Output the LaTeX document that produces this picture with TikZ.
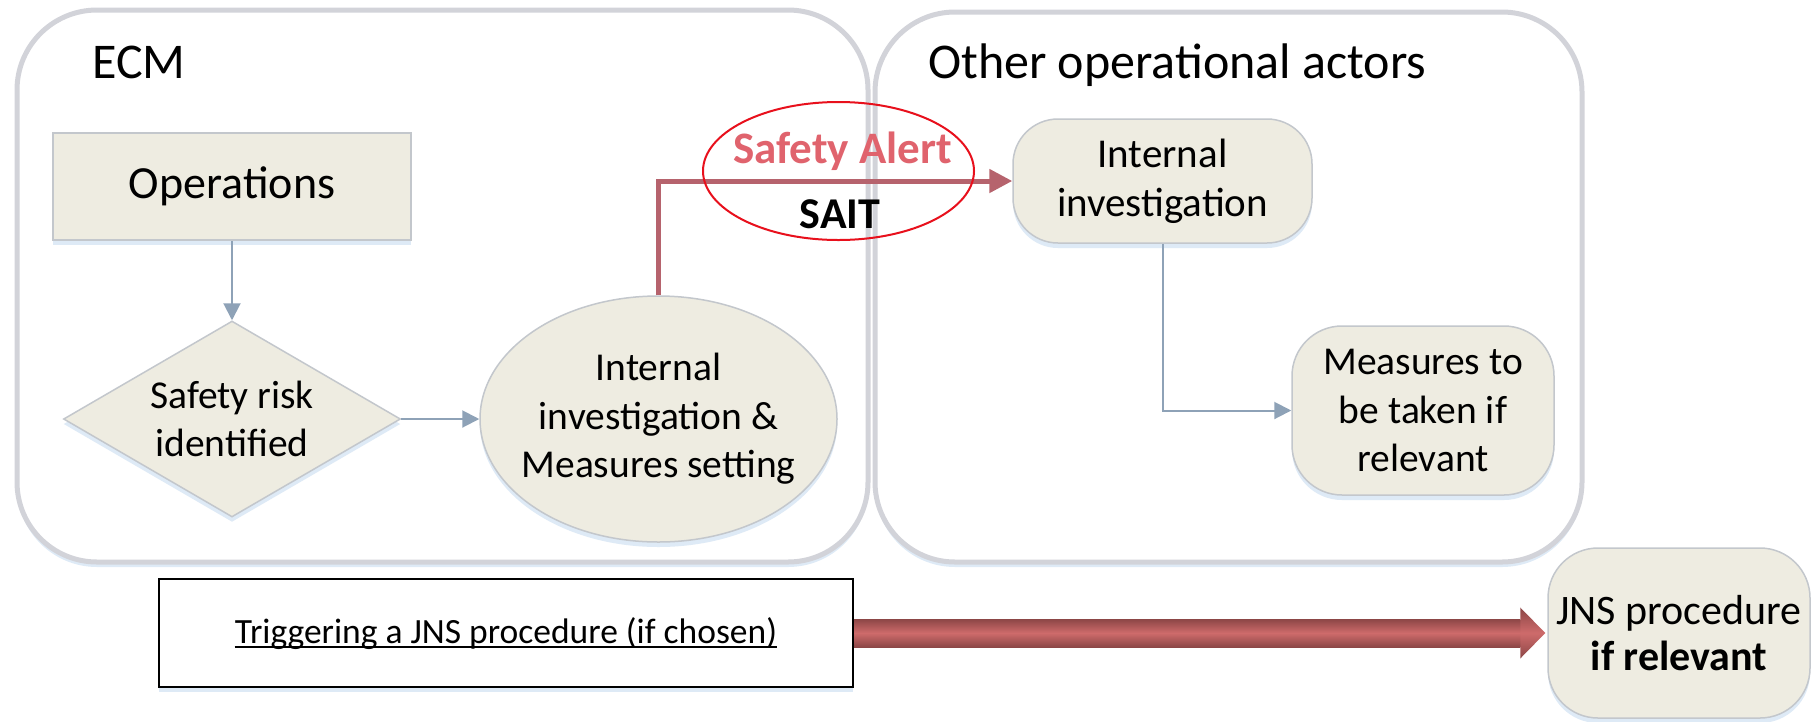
\documentclass[tikz,border=0pt]{standalone}
\usepackage{fontspec}
\setmainfont{Carlito}
\usetikzlibrary{shapes.geometric,arrows.meta,calc,shadows}
\definecolor{tanfill}{HTML}{EEECE1}
\definecolor{nodeline}{HTML}{C3C7CC}
\definecolor{contline}{HTML}{D2D3D9}
\definecolor{grayline}{HTML}{8EA2B7}
\definecolor{redline}{HTML}{B6636D}
\definecolor{alertred}{HTML}{E8101C}
\definecolor{alerttext}{HTML}{E0636D}
\definecolor{arrowmid}{HTML}{CE6B6B}
\definecolor{arrowedge}{HTML}{8C4646}
\definecolor{shadowblue}{HTML}{C8DCF0}
\tikzset{
  softshadow/.style={drop shadow={shadow xshift=0pt,shadow yshift=-5pt,fill=shadowblue,opacity=0.6}},
  container/.style={draw=contline,line width=5pt,rounded corners=80pt,fill=white,inner sep=0pt,softshadow},
  tanbox/.style={draw=nodeline,line width=1.5pt,fill=tanfill,inner sep=0pt,align=center,
    font=\fontsize{39.5}{48.5}\selectfont,softshadow},
  titletext/.style={inner sep=0pt,anchor=base west,font=\fontsize{50}{60}\selectfont},
  grayarrow/.style={draw=grayline,line width=2pt,-{Triangle[length=17pt,width=17pt]}},
  redarrow/.style={draw=redline,line width=5pt,-{Triangle[length=23pt,width=23pt]}},
  bigshade/.style={top color=arrowedge,bottom color=arrowedge,middle color=arrowmid,draw=none}
}
\begin{document}
\begin{tikzpicture}[x=1pt,y=-1pt]
\useasboundingbox (0,0) rectangle (1811,721);
% containers
\node[container,minimum width=851pt,minimum height=552pt] (ecm) at (442.5,286) {};
\node[container,minimum width=707pt,minimum height=550pt] (other) at (1228.5,287) {};
\node[titletext] (ecmt) at (92,78) {ECM};
\node[titletext] (othert) at (928,78) {Other operational actors};
% ECM nodes
\node[tanbox,rectangle,minimum width=358pt,minimum height=107pt,font=\fontsize{46}{55}\selectfont] (ops) at (232,186.5) {Operations};
\node[tanbox,diamond,aspect=1.72,minimum width=337pt,minimum height=196pt] (diam) at (232,419) {Safety risk\\identified};
\node[tanbox,ellipse,minimum width=357pt,minimum height=246pt] (ell) at (658.5,419) {};
\node[inner sep=0pt,align=center,font=\fontsize{39.5}{48.5}\selectfont] (ellt) at (ell.center) {Internal\\investigation \&\\Measures setting};
% other actors nodes
\node[tanbox,rectangle,rounded corners=45pt,minimum width=299pt,minimum height=124pt,
  font=\fontsize{41}{49}\selectfont] (intinv) at (1162.5,181) {Internal\\investigation};
\node[tanbox,rectangle,rounded corners=50pt,minimum width=262pt,minimum height=169pt] (meas) at (1423,410.5) {Measures to\\be taken if\\relevant};
% connectors
\draw[grayarrow] (ops.south) -- (diam.north);
\draw[grayarrow] (diam.east) -- (ell.west);
\draw[grayarrow] (intinv.south) |- (meas.west);
\draw[redarrow] (ell.north) |- (intinv.west);
% safety alert ellipse
\node[draw=alertred,line width=2pt,ellipse,minimum width=271pt,minimum height=138pt,inner sep=0pt] (alert) at (838.5,171) {};
\node[inner sep=0pt,anchor=base,text=alerttext,font=\fontsize{45}{54}\selectfont\bfseries] (alertt) at (842.5,163) {Safety Alert};
\node[inner sep=0pt,anchor=base,font=\fontsize{44}{53}\selectfont\bfseries] (sait) at (840,228) {SAIT};
% bottom row
\node[draw=black,line width=2pt,fill=white,minimum width=694pt,minimum height=108pt,inner sep=0pt,softshadow] (trig) at (506,633) {};
\node[inner sep=0pt,anchor=base,font=\fontsize{35.5}{42}\selectfont] (trigt) at (506,643) {Triggering a JNS procedure (if chosen)};
\draw[line width=2pt] ($(trigt.base west)+(0,4)$) -- ($(trigt.base east)+(0,4)$);
\node[tanbox,rectangle,rounded corners=50pt,minimum width=262pt,minimum height=170pt,
  font=\fontsize{42}{46}\selectfont] (jns) at (1679,633) {JNS procedure\\\textbf{if relevant}};
% big arrow
\shade[bigshade] ($(trig.east)+(0,-14)$) -- ($(jns.west)+(-27,-14)$) -- ($(jns.west)+(-27,14)$) -- ($(trig.east)+(0,14)$) -- cycle;
\shade[bigshade] ($(jns.west)+(-27,-25.5)$) -- ($(jns.west)+(-2,0)$) -- ($(jns.west)+(-27,25.5)$) -- cycle;
\end{tikzpicture}
\end{document}
